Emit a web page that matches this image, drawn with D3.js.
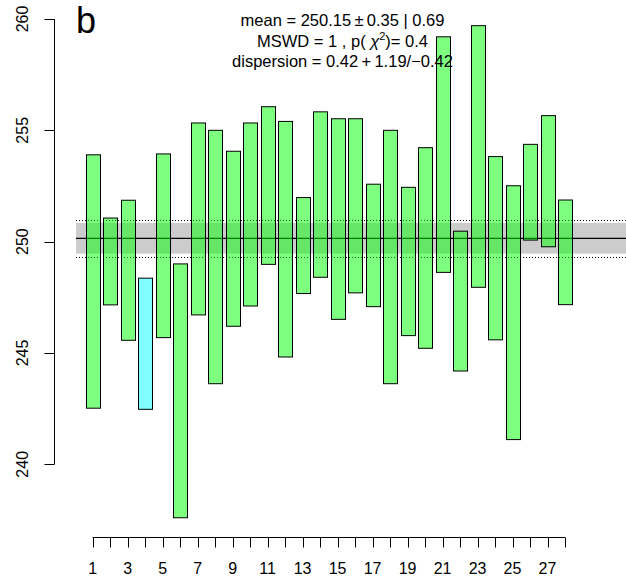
<!DOCTYPE html>
<html>
<head>
<meta charset="utf-8">
<script src="https://cdn.jsdelivr.net/npm/d3@7"></script>
<style>
  html, body { margin: 0; padding: 0; background: #fff; }
  svg { display: block; font-family: "Liberation Sans", Arial, Helvetica, sans-serif; }
</style>
</head>
<body>
<svg id="chart" width="626" height="583"></svg>
<script>
// ---- data ----
const aliquots = d3.range(1, 29);
const upper = [253.90, 251.06, 251.86, 248.36, 253.94, 249.00, 255.33, 255.00, 254.06, 255.33,
               256.06, 255.40, 251.98, 255.83, 255.52, 255.52, 252.58, 255.00, 252.44, 254.22,
               259.20, 250.47, 259.70, 253.82, 252.51, 254.37, 255.66, 251.87];
const lower = [242.52, 247.16, 245.57, 242.47, 245.69, 237.60, 246.71, 243.62, 246.20, 247.11,
               248.98, 244.82, 247.67, 248.40, 246.51, 247.70, 247.08, 243.62, 245.78, 245.21,
               248.62, 244.19, 247.95, 245.59, 241.11, 250.07, 249.77, 247.17];
const rejected = [4];
const yTicks = [240, 245, 250, 255, 260];
const xTicks = d3.range(1, 29);
const xLabels = d3.range(1, 29, 2);
const meanValue = 250.15;
const bandHalf = 0.69;
const dispHalf = 0.84;

// ---- layout ----
const svg = d3.select("#chart");
const x = d3.scaleLinear().domain([1, 28]).range([92.7, 565]);
const y = d3.scaleLinear().domain([240, 260]).range([464.3, 19]);
const step = x(2) - x(1);
const barW = step * 0.8;
const plotLeft = 76, plotRight = 626;

// gray band
svg.append("rect")
  .attr("x", plotLeft).attr("width", plotRight - plotLeft)
  .attr("y", y(meanValue + bandHalf)).attr("height", y(meanValue - bandHalf) - y(meanValue + bandHalf))
  .attr("fill", "#cccccc");

// dotted lines
[meanValue + dispHalf, meanValue - dispHalf].forEach(v => {
  svg.append("line")
    .attr("x1", plotLeft).attr("x2", plotRight)
    .attr("y1", Math.round(y(v)) + 0.5).attr("y2", Math.round(y(v)) + 0.5)
    .attr("stroke", "#000").attr("stroke-width", 1)
    .attr("stroke-dasharray", "1,2");
});

// mean line
svg.append("line")
  .attr("x1", plotLeft).attr("x2", plotRight)
  .attr("y1", y(meanValue)).attr("y2", y(meanValue))
  .attr("stroke", "#000").attr("stroke-width", 1.3);

// bars
svg.append("g").selectAll("rect")
  .data(aliquots)
  .join("rect")
  .attr("x", d => Math.round(x(d) - barW / 2) + 0.5)
  .attr("width", Math.round(barW))
  .attr("y", (d, i) => y(upper[i]))
  .attr("height", (d, i) => y(lower[i]) - y(upper[i]))
  .attr("fill", d => rejected.includes(d) ? "rgba(0,255,255,0.5)" : "rgba(0,255,0,0.5)")
  .attr("stroke", "#000")
  .attr("stroke-width", 1);

// y axis
const yAxisX = 54.5;
const gy = svg.append("g");
gy.append("line")
  .attr("x1", yAxisX).attr("x2", yAxisX)
  .attr("y1", y(240)).attr("y2", y(260))
  .attr("stroke", "#000");
yTicks.forEach(t => {
  gy.append("line")
    .attr("x1", yAxisX - 10).attr("x2", yAxisX)
    .attr("y1", Math.round(y(t)) + 0.5).attr("y2", Math.round(y(t)) + 0.5)
    .attr("stroke", "#000");
  gy.append("text")
    .attr("transform", `translate(28,${y(t)}) rotate(-90)`)
    .attr("text-anchor", "middle")
    .attr("font-size", 16)
    .text(t);
});

// x axis
const axisY = 537.5;
const gx = svg.append("g");
gx.append("line")
  .attr("x1", x(1)).attr("x2", x(28))
  .attr("y1", axisY).attr("y2", axisY)
  .attr("stroke", "#000");
xTicks.forEach(t => {
  gx.append("line")
    .attr("x1", Math.round(x(t)) + 0.5).attr("x2", Math.round(x(t)) + 0.5)
    .attr("y1", axisY).attr("y2", axisY + 10)
    .attr("stroke", "#000");
});
xLabels.forEach(t => {
  gx.append("text")
    .attr("x", x(t)).attr("y", 574)
    .attr("text-anchor", "middle")
    .attr("font-size", 16)
    .text(t);
});

// panel label
svg.append("text")
  .attr("x", 76).attr("y", 33)
  .attr("font-size", 36)
  .text("b");

// statistics text
const cx = 342.5;
const fs = 16.5;
const t1 = svg.append("text").attr("x", cx).attr("y", 26).attr("text-anchor", "middle").attr("font-size", fs);
t1.append("tspan").text("mean = 250.15\u2009\u00B1\u20090.35 | 0.69");

const t2 = svg.append("text").attr("x", cx).attr("y", 47).attr("text-anchor", "middle").attr("font-size", fs);
t2.append("tspan").text("MSWD = 1 , p( ");
t2.append("tspan").attr("font-style", "italic").text("\u03C7");
t2.append("tspan").attr("dy", -7).attr("font-size", 11).text("2");
t2.append("tspan").attr("dy", 7).text(")= 0.4");

const t3 = svg.append("text").attr("x", cx).attr("y", 67).attr("text-anchor", "middle").attr("font-size", fs);
t3.append("tspan").text("dispersion = 0.42\u2009+\u20091.19/\u22120.42");
</script>
</body>
</html>
